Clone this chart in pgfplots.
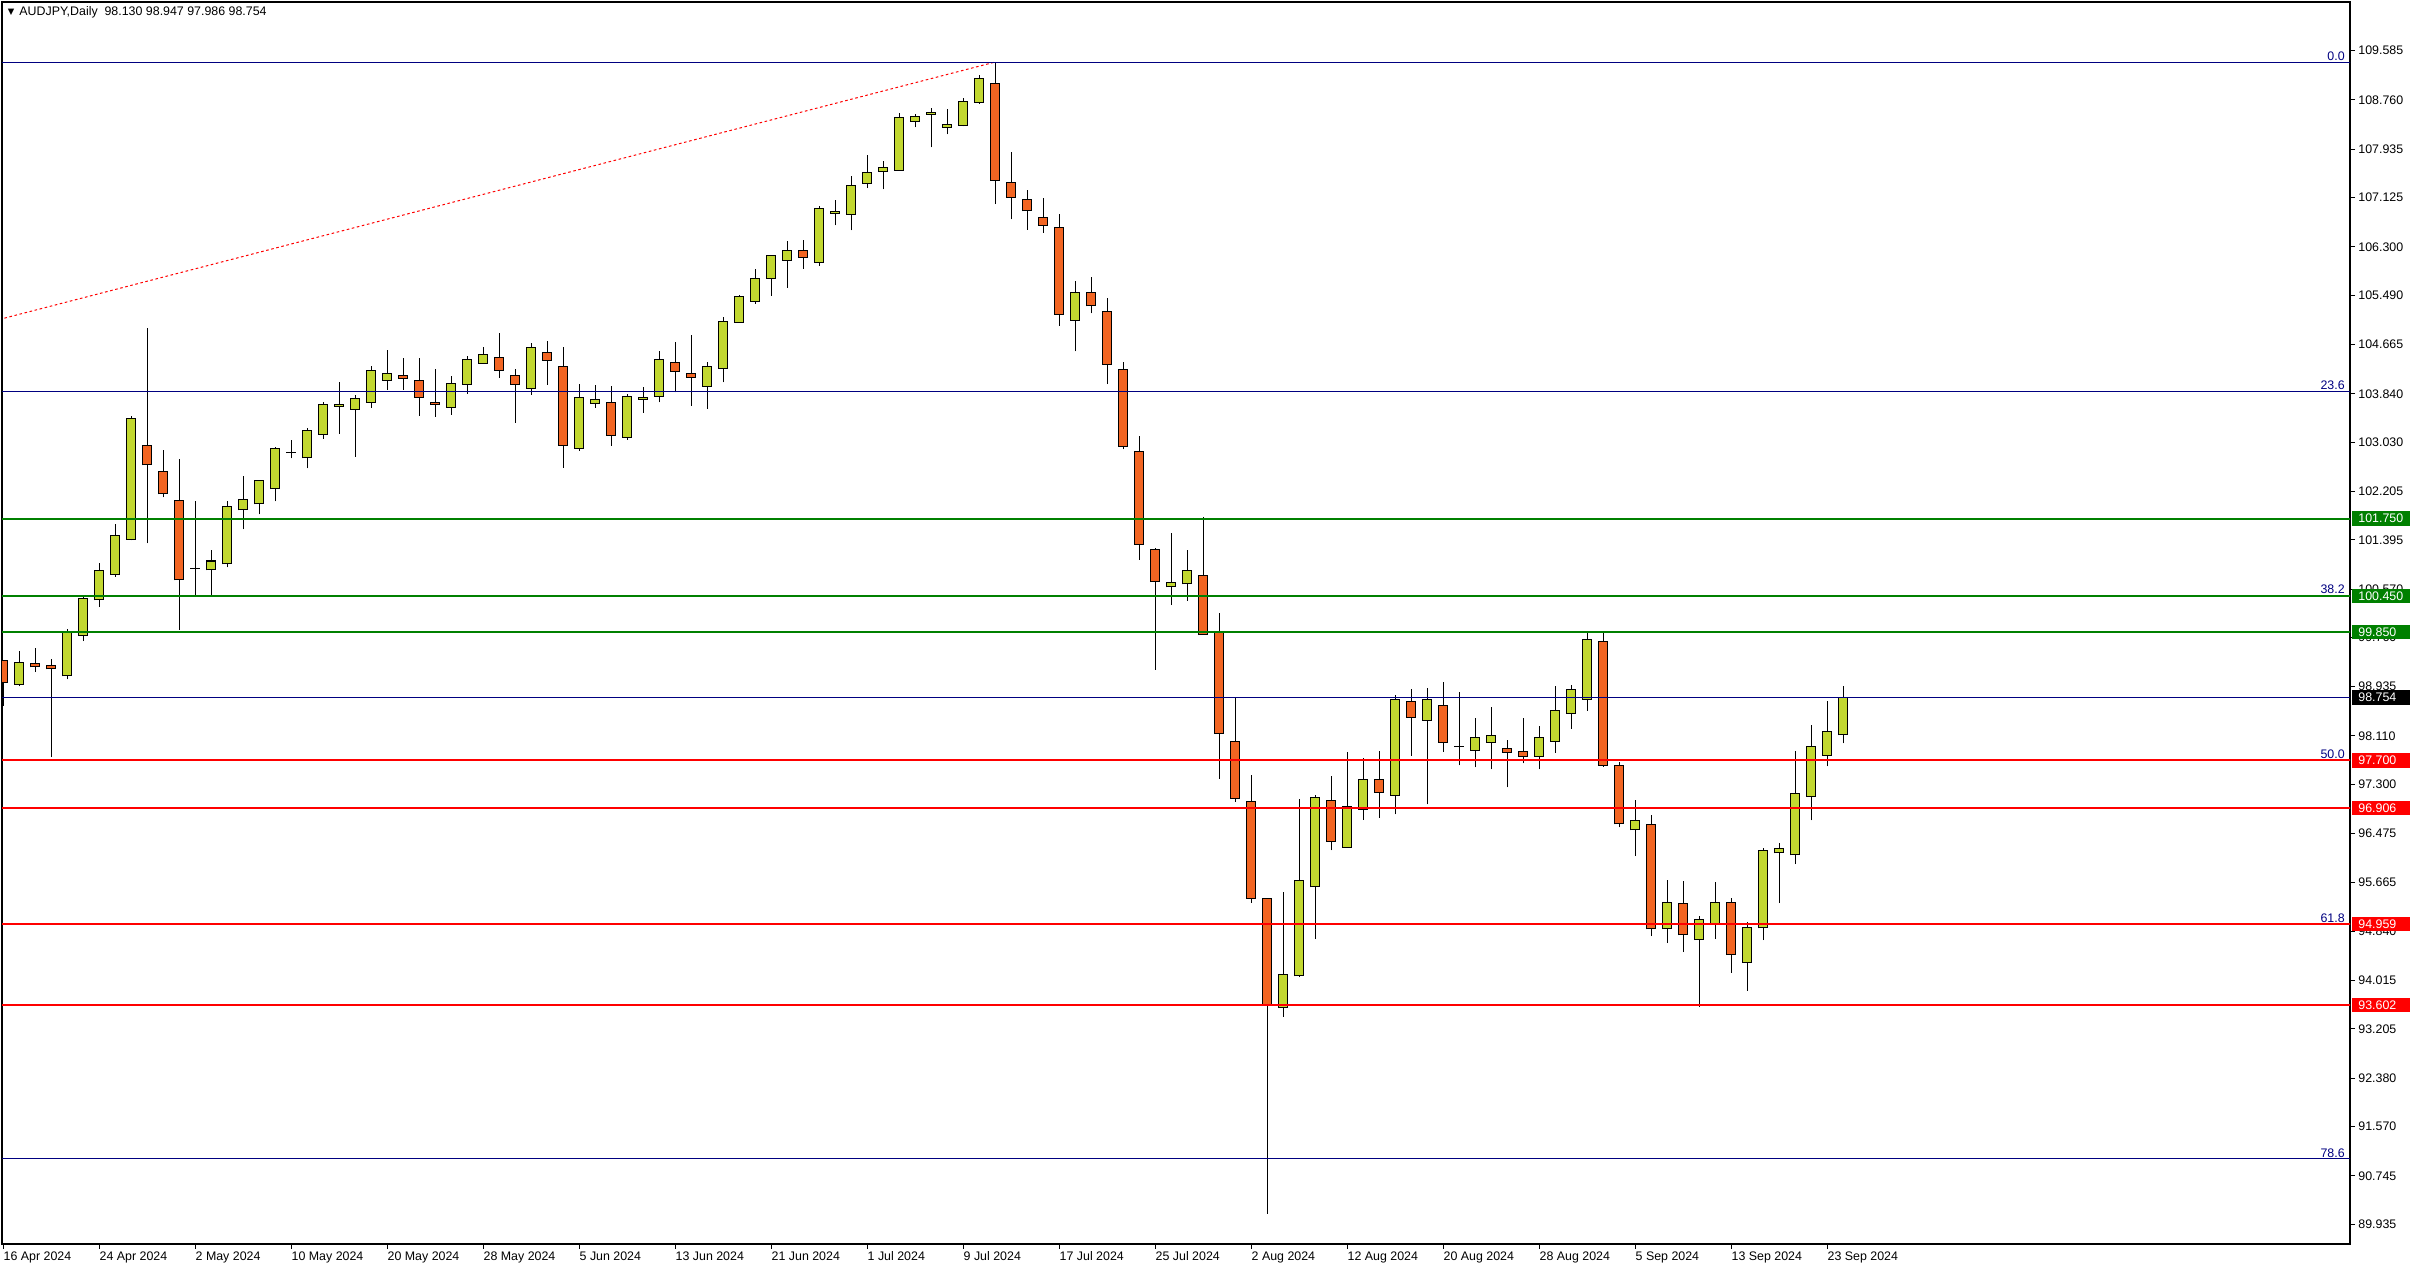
\documentclass[border=0pt]{standalone}
\usepackage{pgfplots}
\pgfplotsset{compat=1.18}
\usepackage{pgfplotstable}
\usepackage{fontspec}
\setmainfont{Liberation Sans}
\newfontfamily\dejavu{DejaVu Sans}
\definecolor{bullc}{RGB}{194,216,48}
\definecolor{bearc}{RGB}{242,101,34}
\definecolor{fibc}{RGB}{0,0,128}
\definecolor{grn}{RGB}{0,128,0}
\definecolor{redl}{RGB}{255,0,0}

% bar index, open, high, low, close
\pgfplotstableread{
x o h l c
1 98.977 99.54 98.94 99.334
4 99.116 99.90 99.06 99.858
5 99.80 100.46 99.70 100.42
6 100.39 101.008 100.266 100.874
7 100.818 101.666 100.779 101.46
8 101.404 103.469 101.387 103.418
12 100.919 102.05 100.472 100.919
13 100.89 101.23 100.47 101.04
14 100.99 102.05 100.935 101.945
15 101.895 102.47 101.571 102.062
16 101.995 102.38 101.82 102.38
17 102.247 102.955 102.04 102.916
18 102.855 103.07 102.76 102.855
19 102.766 103.273 102.59 103.218
20 103.165 103.705 103.09 103.667
21 103.63 104.038 103.173 103.664
22 103.58 103.82 102.788 103.764
23 103.697 104.30 103.608 104.233
24 104.066 104.573 103.904 104.183
28 103.614 104.138 103.49 104.015
29 103.999 104.473 103.842 104.417
30 104.35 104.624 104.35 104.50
33 103.93 104.685 103.826 104.618
36 102.927 103.999 102.888 103.78
37 103.68 103.982 103.608 103.747
39 103.11 103.83 103.07 103.797
40 103.748 103.95 103.52 103.78
41 103.795 104.56 103.694 104.42
44 103.962 104.375 103.588 104.303
45 104.264 105.129 104.03 105.056
46 105.034 105.497 105.034 105.475
47 105.386 105.933 105.347 105.777
48 105.771 106.162 105.481 106.162
49 106.078 106.402 105.615 106.246
51 106.045 106.988 105.983 106.949
52 106.865 107.089 106.659 106.899
53 106.849 107.491 106.575 107.334
54 107.368 107.842 107.284 107.552
55 107.569 107.742 107.262 107.636
56 107.586 108.546 107.586 108.473
57 108.406 108.529 108.30 108.49
58 108.524 108.624 107.965 108.557
59 108.306 108.607 108.183 108.356
60 108.334 108.791 108.317 108.741
61 108.72 109.178 108.695 109.127
67 105.071 105.732 104.549 105.541
73 100.607 101.51 100.302 100.683
74 100.658 101.23 100.378 100.887
80 93.562 95.495 93.41 94.109
81 94.095 97.053 94.073 95.683
82 95.583 97.126 94.708 97.087
84 96.246 97.844 96.246 96.936
85 96.886 97.744 96.708 97.388
87 97.12 98.797 96.797 98.725
89 98.374 98.914 96.964 98.725
91 97.934 98.847 97.616 97.934
92 97.872 98.413 97.583 98.09
93 98.006 98.596 97.549 98.123
96 97.772 98.279 97.549 98.09
97 98.023 98.947 97.833 98.541
98 98.491 98.964 98.234 98.892
99 98.725 99.839 98.535 99.727
102 96.536 97.038 96.097 96.687
104 94.882 95.707 94.643 95.317
106 94.699 95.089 93.574 95.033
107 94.966 95.673 94.71 95.317
109 94.314 95.0 93.841 94.899
110 94.899 96.241 94.693 96.186
111 96.152 96.325 95.311 96.219
112 96.119 97.862 95.963 97.155
113 97.104 98.296 96.698 97.94
114 97.79 98.697 97.6 98.19
115 98.13 98.947 97.986 98.754
}\bull

\pgfplotstableread{
x o h l c
0 99.367 99.38 98.62 99.01
2 99.317 99.59 99.18 99.267
3 99.283 99.406 97.755 99.233
9 102.966 104.94 101.337 102.648
10 102.531 102.905 102.107 102.163
11 102.046 102.754 99.892 100.723
25 104.149 104.44 103.904 104.099
26 104.066 104.44 103.474 103.78
27 103.697 104.255 103.457 103.664
31 104.45 104.85 104.11 104.233
32 104.149 104.25 103.357 103.999
34 104.534 104.718 103.993 104.40
35 104.30 104.618 102.604 102.978
38 103.697 103.965 102.972 103.145
42 104.37 104.71 103.862 104.213
43 104.185 104.828 103.64 104.113
50 106.246 106.419 105.933 106.128
62 109.038 109.395 107.017 107.41
63 107.372 107.894 106.762 107.131
64 107.093 107.258 106.584 106.902
65 106.787 107.118 106.533 106.66
66 106.622 106.851 104.982 105.172
68 105.541 105.796 105.185 105.312
69 105.211 105.44 104.003 104.333
70 104.244 104.371 102.909 102.96
71 102.871 103.125 101.065 101.319
72 101.23 101.256 99.221 100.696
75 100.798 101.777 99.806 99.806
76 99.844 100.162 97.39 98.153
77 98.013 98.75 97.008 97.06
78 97.021 97.453 95.317 95.393
79 95.393 95.393 90.107 93.613
83 97.037 97.443 96.195 96.351
86 97.388 97.861 96.741 97.17
88 98.691 98.897 97.778 98.424
90 98.624 99.014 97.85 98.006
94 97.906 98.045 97.248 97.839
95 97.856 98.413 97.65 97.772
100 99.694 99.839 97.599 97.622
101 97.622 97.678 96.581 96.637
103 96.62 96.787 94.76 94.882
105 95.3 95.69 94.493 94.782
108 95.317 95.389 94.142 94.448
}\bear

\newcommand{\tl}{\fontsize{6.2}{7.4}\selectfont}

\pgfplotsset{
  wick/.style={draw=none, mark=none, forget plot,
    error bars/.cd, y dir=plus, y explicit, error mark=none,
    error bar style={draw=black, solid, line width=0.55pt}},
  bodyout/.style={draw=none, mark=none, forget plot,
    error bars/.cd, y dir=plus, y explicit, error mark=none,
    error bar style={draw=black, solid, line width=5pt}},
  bodyin/.style={draw=none, mark=none, forget plot,
    error bars/.cd, y dir=plus, y explicit, error mark=none,
    error bar style={draw=#1, solid, line width=4pt}},
}

\begin{document}
\begin{tikzpicture}
\useasboundingbox (-1pt,-12pt) rectangle (1206pt,622pt);
\begin{axis}[
  at={(0,0)}, anchor=south west,
  scale only axis, width=1174pt, height=621pt,
  xmin=-0.08, xmax=146.67, ymin=89.604, ymax=110.40,
  axis line style={black, line width=0.6pt},
  tick style={black, line width=0.5pt},
  tick align=outside, major tick length=2.5pt,
  xtick pos=left, ytick pos=right, yticklabel pos=right,
  xtick={0,6,...,114},
  xticklabels={16 Apr 2024,24 Apr 2024,2 May 2024,10 May 2024,20 May 2024,28 May 2024,5 Jun 2024,13 Jun 2024,21 Jun 2024,1 Jul 2024,9 Jul 2024,17 Jul 2024,25 Jul 2024,2 Aug 2024,12 Aug 2024,20 Aug 2024,28 Aug 2024,5 Sep 2024,13 Sep 2024,23 Sep 2024},
  ytick={109.585,108.760,107.935,107.125,106.300,105.490,104.665,103.840,103.030,102.205,101.395,100.570,99.760,98.935,98.110,97.300,96.475,95.665,94.840,94.015,93.205,92.380,91.570,90.745,89.935},
  yticklabels={109.585,108.760,107.935,107.125,106.300,105.490,104.665,103.840,103.030,102.205,101.395,100.570,99.760,98.935,98.110,97.300,96.475,95.665,94.840,94.015,93.205,92.380,91.570,90.745,89.935},
  ticklabel style={font=\tl, inner sep=0pt},
  xticklabel style={anchor=north west, yshift=-1pt},
  yticklabel style={anchor=west, xshift=1.5pt},
]
% wicks
\addplot[wick] table[x=x, y=l, y error expr=\thisrow{h}-\thisrow{l}] {\bull};
\addplot[wick] table[x=x, y=l, y error expr=\thisrow{h}-\thisrow{l}] {\bear};
% bodies: outline
\addplot[bodyout] table[x=x, y expr={min(\thisrow{o},\thisrow{c})-0.0084}, y error expr={abs(\thisrow{c}-\thisrow{o})+0.0168}] {\bull};
\addplot[bodyout] table[x=x, y expr={min(\thisrow{o},\thisrow{c})-0.0084}, y error expr={abs(\thisrow{c}-\thisrow{o})+0.0168}] {\bear};
% bodies: fill
\addplot[bodyin=bullc] table[x=x, y expr={min(\thisrow{o},\thisrow{c})+0.0084}, y error expr={max(abs(\thisrow{c}-\thisrow{o})-0.0168,0)}] {\bull};
\addplot[bodyin=bearc] table[x=x, y expr={min(\thisrow{o},\thisrow{c})+0.0084}, y error expr={max(abs(\thisrow{c}-\thisrow{o})-0.0168,0)}] {\bear};

% fibonacci trend line
\addplot[redl, line width=0.5pt, dash pattern=on 1.3pt off 1.3pt, forget plot] coordinates {(-10,104.409) (62,109.395)};
% fibonacci levels
\addplot[fibc, line width=0.5pt, forget plot] coordinates {(-1,109.395) (150,109.395)};
\addplot[fibc, line width=0.5pt, forget plot] coordinates {(-1,103.88) (150,103.88)};
\addplot[fibc, line width=0.5pt, forget plot] coordinates {(-1,100.468) (150,100.468)};
\addplot[fibc, line width=0.5pt, forget plot] coordinates {(-1,97.71) (150,97.71)};
\addplot[fibc, line width=0.5pt, forget plot] coordinates {(-1,94.95) (150,94.95)};
\addplot[fibc, line width=0.5pt, forget plot] coordinates {(-1,91.03) (150,91.03)};
% current price
\addplot[fibc, line width=0.5pt, forget plot] coordinates {(-1,98.754) (150,98.754)};
% support / resistance
\addplot[grn, line width=1pt, forget plot] coordinates {(-1,101.75) (150,101.75)};
\addplot[grn, line width=1pt, forget plot] coordinates {(-1,100.45) (150,100.45)};
\addplot[grn, line width=1pt, forget plot] coordinates {(-1,99.85) (150,99.85)};
\addplot[redl, line width=1pt, forget plot] coordinates {(-1,97.70) (150,97.70)};
\addplot[redl, line width=1pt, forget plot] coordinates {(-1,96.906) (150,96.906)};
\addplot[redl, line width=1pt, forget plot] coordinates {(-1,94.959) (150,94.959)};
\addplot[redl, line width=1pt, forget plot] coordinates {(-1,93.602) (150,93.602)};

% fib labels
\foreach \v/\t in {109.395/0.0, 103.88/23.6, 100.468/38.2, 97.71/50.0, 94.95/61.8, 91.03/78.6}{
  \edef\tmp{\noexpand\node[anchor=south east, inner sep=0pt, text=fibc, font=\noexpand\tl] at (axis cs:146.36,\v) [yshift=0.6pt] {\t};}
  \tmp
}
% title
\node[anchor=west, inner sep=0pt, font=\tl] at ([xshift=8.5pt, yshift=-5.2pt]rel axis cs:0,1) {AUDJPY,Daily\ \ 98.130 98.947 97.986 98.754};
\node[anchor=center, inner sep=0pt, font=\dejavu\fontsize{4.2}{5}\selectfont] at ([xshift=4.6pt, yshift=-5.4pt]rel axis cs:0,1) {▼};

\coordinate (qA) at (axis cs:146.67,101.75);
\coordinate (qB) at (axis cs:146.67,100.45);
\coordinate (qC) at (axis cs:146.67,99.85);
\coordinate (qD) at (axis cs:146.67,98.754);
\coordinate (qE) at (axis cs:146.67,97.70);
\coordinate (qF) at (axis cs:146.67,96.906);
\coordinate (qG) at (axis cs:146.67,94.959);
\coordinate (qH) at (axis cs:146.67,93.602);
\end{axis}
\foreach \p/\c/\t in {qA/grn/101.750, qB/grn/100.450, qC/grn/99.850, qD/black/98.754, qE/redl/97.700, qF/redl/96.906, qG/redl/94.959, qH/redl/93.602}{
  \fill[\c] ([xshift=1pt, yshift=-3.6pt]\p) rectangle ([xshift=30pt, yshift=3.6pt]\p);
  \node[anchor=west, inner sep=0pt, text=white, font=\tl] at ([xshift=4pt]\p) {\t};
}
\end{tikzpicture}
\end{document}
